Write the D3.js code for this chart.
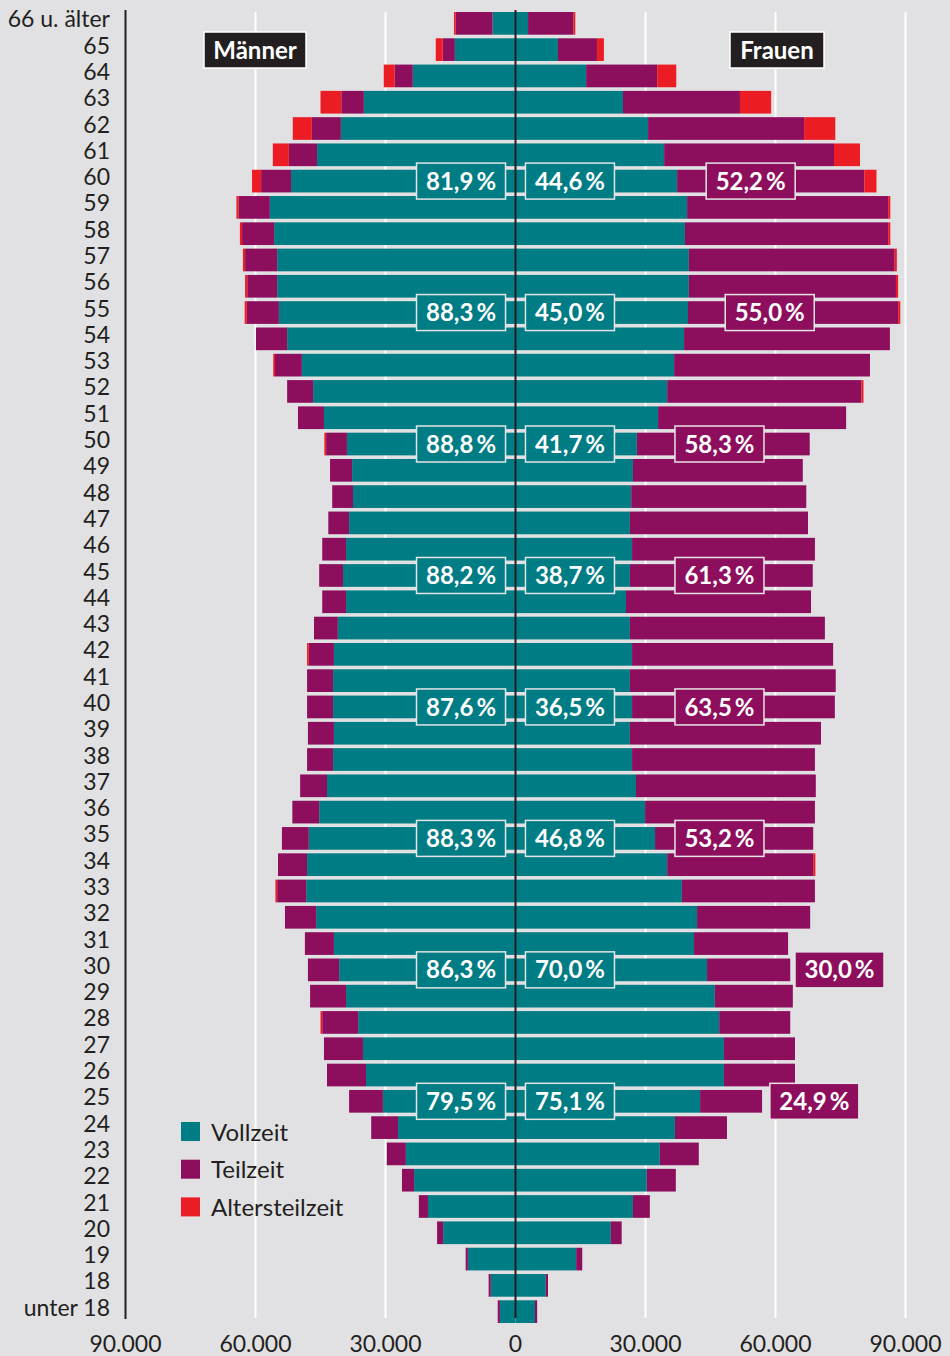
<!DOCTYPE html>
<html>
<head>
<meta charset="utf-8">
<script src="https://cdn.jsdelivr.net/npm/d3@7"></script>
<style>
  body { margin: 0; background: #e1e1e3; }
  svg text { font-family: "Lato", "Noto Sans", sans-serif; }
</style>
</head>
<body>
<div id="chart"></div>
<script>
// Altersgruppen, von oben nach unten
const ages = ["66 u. älter", "65", "64", "63", "62", "61", "60", "59", "58", "57", "56", "55", "54", "53",
  "52", "51", "50", "49", "48", "47", "46", "45", "44", "43", "42", "41", "40", "39", "38", "37", "36",
  "35", "34", "33", "32", "31", "30", "29", "28", "27", "26", "25", "24", "23", "22", "21", "20", "19",
  "18", "unter 18"];

// Männer
const menVoll = [5300, 14000, 23700, 35000, 40300, 45800, 51800, 56700, 55700, 55000, 55000, 54600, 52700, 49300,
  46700, 44200, 38900, 37700, 37500, 38400, 39100, 39800, 39100, 41000, 41900, 42100, 42100, 41900, 42100, 43500, 45300,
  47700, 48100, 48300, 46000, 41900, 40700, 39100, 36300, 35200, 34500, 30600, 27100, 25300, 23400, 20200, 16700, 11000,
  5700, 3600];
const menTeil = [8500, 2800, 4200, 5200, 6700, 6500, 6900, 7200, 7400, 7400, 6900, 7400, 7200, 6200,
  6000, 6000, 4800, 5100, 4800, 4800, 5500, 5500, 5500, 5500, 5800, 6000, 6000, 6000, 6000, 6200, 6200,
  6200, 6700, 6700, 7200, 6700, 7200, 8300, 8300, 9000, 9000, 7800, 6200, 4400, 2800, 2100, 1400, 500,
  500, 500];
const menAtz = [400, 1600, 2500, 4800, 4400, 3700, 2100, 500, 500, 500, 500, 500, 0, 400,
  0, 0, 400, 0, 0, 0, 0, 0, 0, 0, 400, 0, 0, 0, 0, 0, 0,
  0, 0, 400, 0, 0, 0, 0, 400, 0, 0, 0, 0, 0, 0, 0, 0, 0,
  0, 0];

// Frauen
const womenVoll = [2900, 9800, 16300, 24800, 30600, 34300, 37300, 39600, 39100, 40000, 40000, 39800, 38900, 36600,
  35000, 32900, 28000, 27100, 26700, 26400, 26900, 26400, 25500, 26400, 26900, 26400, 26900, 26400, 26900, 27800, 29900,
  32200, 35000, 38400, 41900, 41200, 44200, 46000, 47000, 48100, 48100, 42600, 36800, 33300, 30300, 27100, 22000, 14000,
  7000, 4500];
const womenTeil = [10500, 9000, 16400, 27000, 36000, 39200, 43200, 46400, 46900, 47500, 47800, 48500, 47500, 45200,
  44800, 43400, 39900, 39200, 40400, 41100, 42200, 42200, 42700, 45000, 46400, 47500, 46800, 44100, 42200, 41500, 39200,
  36500, 33700, 30700, 26100, 21700, 19200, 18000, 16400, 16400, 16400, 14300, 12000, 9000, 6700, 3900, 2500, 1400,
  500, 500];
const womenAtz = [400, 1600, 4400, 7200, 7200, 6000, 2800, 500, 500, 500, 500, 500, 0, 0,
  500, 0, 0, 0, 0, 0, 0, 0, 0, 0, 0, 0, 0, 0, 0, 0, 0,
  0, 500, 0, 0, 0, 0, 0, 0, 0, 0, 0, 0, 0, 0, 0, 0, 0,
  0, 0];

// Anteile je Altersgruppe (Beschriftungen)
const pctAges = ["60", "55", "50", "45", "40", "35", "30", "25"];
const pctMenVoll = ["81,9", "88,3", "88,8", "88,2", "87,6", "88,3", "86,3", "79,5"];
const pctWomenVoll = ["44,6", "45,0", "41,7", "38,7", "36,5", "46,8", "70,0", "75,1"];
const pctWomenTeil = ["52,2", "55,0", "58,3", "61,3", "63,5", "53,2", "30,0", "24,9"];
// Position der Teilzeit-Kästchen (linke Kante, in Personen)
const teilLabelX = [44000, 48400, 36800, 36800, 36800, 36800, 64500, 58700];

const xTicks = [-90000, -60000, -30000, 0, 30000, 60000, 90000];
const legendItems = ["Vollzeit", "Teilzeit", "Altersteilzeit"];

const colors = { voll: "#007c85", teil: "#8e0e5e", atz: "#ec1c24" };

const width = 950, height = 1356;
const bg = "#e1e1e3";

const svg = d3.select("#chart").append("svg")
  .attr("width", width).attr("height", height);

svg.append("rect").attr("width", width).attr("height", height).attr("fill", bg);

const x = d3.scaleLinear().domain([-90000, 90000]).range([125.5, 905.5]);
const y = d3.scaleBand().domain(ages).range([12, 1323]).paddingInner(0.137).paddingOuter(0);

// Gitterlinien
svg.append("g").selectAll("line")
  .data(xTicks.filter(d => d !== -90000 && d !== 0))
  .join("line")
  .attr("x1", d => x(d)).attr("x2", d => x(d))
  .attr("y1", 12).attr("y2", 1318)
  .attr("stroke", "#ffffff").attr("stroke-width", 2);

// Balken aufbauen
const rows = ages.map((a, i) => ({
  age: a,
  men: [menVoll[i], menTeil[i], menAtz[i]],
  women: [womenVoll[i], womenTeil[i], womenAtz[i]]
}));

const segs = [];
rows.forEach(r => {
  let acc = 0;
  ["voll", "teil", "atz"].forEach((k, j) => {
    segs.push({ age: r.age, key: k, x0: -(acc + r.men[j]), x1: -acc });
    acc += r.men[j];
  });
  acc = 0;
  ["voll", "teil", "atz"].forEach((k, j) => {
    segs.push({ age: r.age, key: k, x0: acc, x1: acc + r.women[j] });
    acc += r.women[j];
  });
});

svg.append("g").selectAll("rect")
  .data(segs.filter(d => d.x1 > d.x0))
  .join("rect")
  .attr("x", d => x(d.x0))
  .attr("width", d => x(d.x1) - x(d.x0))
  .attr("y", d => y(d.age))
  .attr("height", y.bandwidth())
  .attr("fill", d => colors[d.key]);

// Mittellinie und linke Achse
svg.append("line")
  .attr("x1", x(0)).attr("x2", x(0)).attr("y1", 10).attr("y2", 1318)
  .attr("stroke", "#231f20").attr("stroke-width", 2);
svg.append("line")
  .attr("x1", x(-90000)).attr("x2", x(-90000)).attr("y1", 10).attr("y2", 1319)
  .attr("stroke", "#231f20").attr("stroke-width", 2);

// Alterslabels
svg.append("g").selectAll("text")
  .data(ages)
  .join("text")
  .attr("x", 110)
  .attr("y", d => y(d) + y.bandwidth() / 2 - 4)
  .attr("dy", "0.35em")
  .attr("text-anchor", "end")
  .attr("font-size", 23)
  .attr("fill", "#231f20")
  .text(d => d);

// x-Achse
const fmt = d => d3.format(",")(Math.abs(d)).replace(/,/g, ".");
svg.append("g").selectAll("text")
  .data(xTicks)
  .join("text")
  .attr("x", d => x(d))
  .attr("y", 1352)
  .attr("text-anchor", "middle")
  .attr("font-size", 23)
  .attr("fill", "#231f20")
  .text(fmt);

// Prozent-Kästchen
const boxW = 89, boxH = 36;
function pctBox(x0, cy, fill, label) {
  const g = svg.append("g");
  g.append("rect")
    .attr("x", x0).attr("y", cy - boxH / 2)
    .attr("width", boxW).attr("height", boxH)
    .attr("fill", fill)
    .attr("stroke", "#e4e4e4").attr("stroke-width", 1.5);
  g.append("text")
    .attr("x", x0 + boxW / 2).attr("y", cy)
    .attr("dy", "0.36em")
    .attr("text-anchor", "middle")
    .attr("font-size", 24).attr("font-weight", 700)
    .attr("fill", "#ffffff")
    .text(label + "\u2009%");
}

pctAges.forEach((a, i) => {
  const cy = y(a) + y.bandwidth() / 2;
  pctBox(x(-2300) - boxW, cy, colors.voll, pctMenVoll[i]);
  pctBox(x(2300), cy, colors.voll, pctWomenVoll[i]);
  pctBox(x(teilLabelX[i]), cy, colors.teil, pctWomenTeil[i]);
});

// Titel-Kästchen
function titleBox(x0, w, label) {
  svg.append("rect")
    .attr("x", x0).attr("y", 32).attr("width", w).attr("height", 36)
    .attr("fill", "#231f20").attr("stroke", "#ffffff").attr("stroke-width", 1.5);
  svg.append("text")
    .attr("x", x0 + w / 2).attr("y", 50).attr("dy", "0.36em")
    .attr("text-anchor", "middle")
    .attr("font-size", 24).attr("font-weight", 700)
    .attr("fill", "#ffffff")
    .text(label);
}
titleBox(204, 102, "Männer");
titleBox(730, 94, "Frauen");

// Legende
const legend = svg.append("g").attr("transform", "translate(181,1122)");
legendItems.forEach((item, i) => {
  legend.append("rect")
    .attr("x", 0).attr("y", i * 37.7)
    .attr("width", 19).attr("height", 19)
    .attr("fill", [colors.voll, colors.teil, colors.atz][i]);
  legend.append("text")
    .attr("x", 30).attr("y", i * 37.7 + 10).attr("dy", "0.36em")
    .attr("font-size", 24).attr("fill", "#231f20")
    .text(item);
});
</script>
</body>
</html>
